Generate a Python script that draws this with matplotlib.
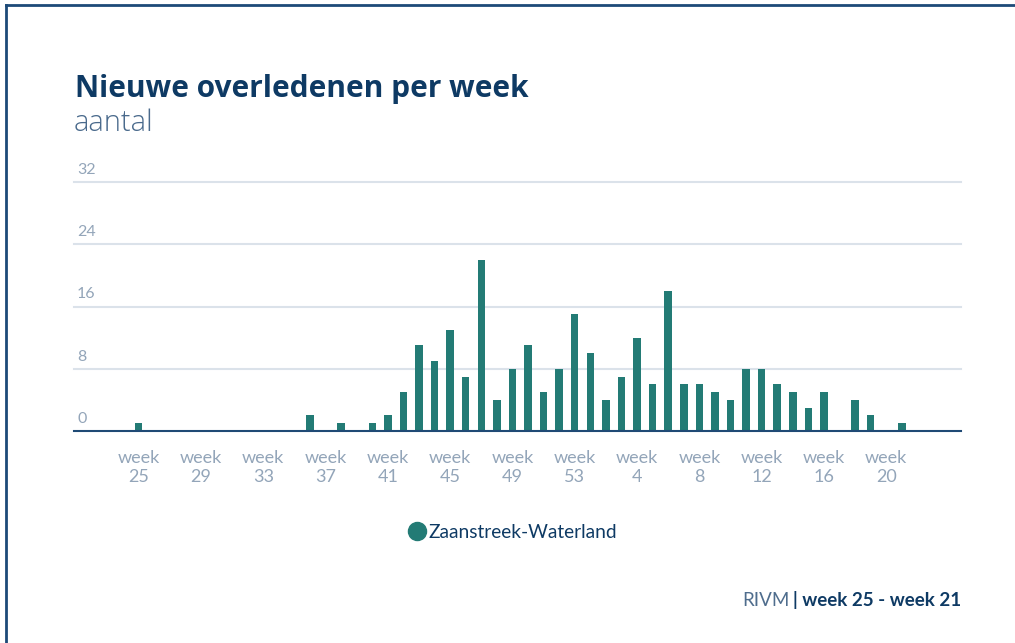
import matplotlib
matplotlib.use("Agg")
import matplotlib.pyplot as plt
from matplotlib.lines import Line2D
from matplotlib import transforms

plt.rcParams['font.family'] = ['Lato', 'DejaVu Sans']

weeks = [25, 26, 27, 28, 29, 30, 31, 32, 33, 34, 35, 36, 37, 38, 39, 40, 41, 42, 43, 44,
         45, 46, 47, 48, 49, 50, 51, 52, 53, 1, 2, 3, 4, 5, 6, 7, 8, 9, 10, 11,
         12, 13, 14, 15, 16, 17, 18, 19, 20, 21]
deaths = [1, 0, 0, 0, 0, 0, 0, 0, 0, 0, 0, 2, 0, 1, 0, 1, 2, 5, 11, 9,
          13, 7, 22, 4, 8, 11, 5, 8, 15, 10, 4, 7, 12, 6, 18, 6, 6, 5, 4, 8,
          8, 6, 5, 3, 5, 0, 4, 2, 0, 1]
y_ticks = [0, 8, 16, 24, 32]
series_name = "Zaanstreek-Waterland"
title = "Nieuwe overledenen per week"
subtitle = "aantal"
source = "RIVM"
period = "| week 25 - week 21"

BAR = "#237b75"
NAVY = "#0e3a64"
TICK = "#93a5b9"
GRID = "#dbe2ea"

W, H = 1015, 643
fig = plt.figure(figsize=(W / 100, H / 100), dpi=100)

# frame lines (top and left)
fig.add_artist(Line2D([6 / W, 6 / W], [0, 1 - 5 / H], color="#1d4a78", lw=2))
fig.add_artist(Line2D([6 / W, 1], [1 - 5 / H, 1 - 5 / H], color="#1d4a78", lw=2))

left, right = 74, 961
bottom, top = 431, 182
ax = fig.add_axes([left / W, 1 - bottom / H, (right - left) / W, (bottom - top) / H])

x = list(range(len(weeks)))
ax.bar(x, deaths, width=0.48, color=BAR, zorder=3)

ax.set_xlim(-4.15, 52.8)
ax.set_ylim(0, 32)
for s in ax.spines.values():
    s.set_visible(False)
ax.axhline(0, color="#1f4a75", lw=1.5, zorder=4, clip_on=False)
for v in y_ticks[1:]:
    ax.axhline(v, color=GRID, lw=1.5, zorder=1, clip_on=False)

ax.set_yticks([])
off = transforms.offset_copy(ax.get_yaxis_transform(), fig=fig, x=3, y=5, units='dots')
for v in y_ticks:
    ax.text(0, v, str(v), transform=off, ha='left', va='bottom',
            color=TICK, fontsize=11.5)

tick_idx = x[::4]
ax.set_xticks(tick_idx)
ax.set_xticklabels([f"week\n{weeks[i]}" for i in tick_idx], color=TICK,
                   fontsize=13, linespacing=1.2)
ax.tick_params(axis='x', length=0, pad=14)

fig.text(75 / W, 1 - 97 / H, title, fontsize=21.5, fontweight='bold', color=NAVY,
         ha='left', va='baseline', family=['Open Sans', 'DejaVu Sans'])
fig.text(74 / W, 1 - 131 / H, subtitle, fontsize=21, fontweight='light', color="#4a6a8c",
         ha='left', va='baseline', family=['Open Sans', 'DejaVu Sans'])

handle = Line2D([], [], marker='o', linestyle='none', markersize=13,
                markerfacecolor=BAR, markeredgecolor=BAR)
fig.legend([handle], [series_name], loc='center', bbox_to_anchor=(512 / W, 1 - 532 / H),
           frameon=False, handletextpad=0.1, borderpad=0, handlelength=1.0,
           prop={'size': 13.8}, labelcolor=NAVY)

t2 = fig.text(961 / W, 1 - 606 / H, period, fontsize=13.5, fontweight='bold', color=NAVY,
              ha='right', va='baseline')
fig.canvas.draw()
bb = t2.get_window_extent(renderer=fig.canvas.get_renderer())
fig.text(bb.x0 / W - 3 / W, 1 - 606 / H, source, fontsize=13.5, color="#4f6d8d",
         ha='right', va='baseline')

fig.savefig("out.png", dpi=100)
